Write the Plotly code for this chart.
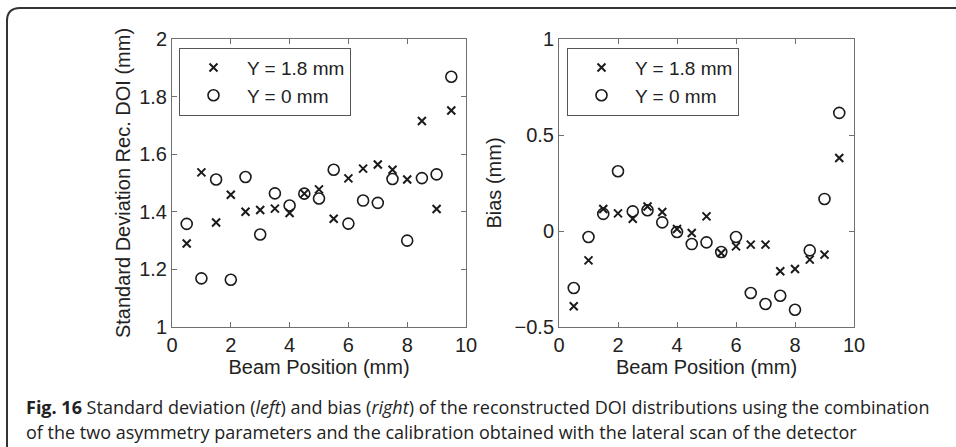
import plotly.graph_objects as go

beam_pos = [0.5, 1, 1.5, 2, 2.5, 3, 3.5, 4, 4.5, 5, 5.5, 6, 6.5, 7, 7.5, 8, 8.5, 9, 9.5]

std_y18 = [1.29, 1.537, 1.363, 1.459, 1.400, 1.406, 1.411, 1.396, 1.463, 1.478, 1.376,
           1.516, 1.550, 1.564, 1.546, 1.512, 1.715, 1.410, 1.752]
std_y0 = [1.358, 1.169, 1.512, 1.164, 1.521, 1.321, 1.464, 1.422, 1.463, 1.446, 1.546,
          1.359, 1.439, 1.431, 1.514, 1.300, 1.517, 1.530, 1.869]

bias_y18 = [-0.392, -0.153, 0.115, 0.092, 0.064, 0.128, 0.099, 0.010, -0.010, 0.076, -0.115,
            -0.080, -0.071, -0.071, -0.210, -0.198, -0.149, -0.123, 0.380]
bias_y0 = [-0.297, -0.031, 0.089, 0.311, 0.102, 0.108, 0.045, -0.005, -0.068, -0.059, -0.109,
           -0.031, -0.323, -0.380, -0.337, -0.410, -0.101, 0.167, 0.615]

series_names = ["Y = 1.8 mm", "Y = 0 mm"]
x_ticks = [0, 2, 4, 6, 8, 10]
std_ticks = [1, 1.2, 1.4, 1.6, 1.8, 2]
bias_ticks = [-0.5, 0, 0.5, 1]

W, H = 956, 447
INK = "#1a1a1a"
AXC = "#707070"

cross = dict(symbol="x-thin-open", size=8, color=INK, line=dict(width=2, color=INK))
circ = dict(symbol="circle-open", size=11, color=INK, line=dict(width=1.6, color=INK))

fig = go.Figure()
fig.add_trace(go.Scatter(x=beam_pos, y=std_y18, mode="markers", marker=cross,
                         name=series_names[0], xaxis="x", yaxis="y", legend="legend"))
fig.add_trace(go.Scatter(x=beam_pos, y=std_y0, mode="markers", marker=circ,
                         name=series_names[1], xaxis="x", yaxis="y", legend="legend"))
fig.add_trace(go.Scatter(x=beam_pos, y=bias_y18, mode="markers", marker=cross,
                         name=series_names[0], xaxis="x2", yaxis="y2", legend="legend2"))
fig.add_trace(go.Scatter(x=beam_pos, y=bias_y0, mode="markers", marker=circ,
                         name=series_names[1], xaxis="x2", yaxis="y2", legend="legend2"))

FAM = "Liberation Sans, Arial, sans-serif"
tickfont = dict(family=FAM, size=20, color="#222")
titlefont = dict(family=FAM, size=20, color="#222")

y_dom = [1 - 327 / H, 1 - 39 / H]

def xax(domain, anchor):
    return dict(domain=domain, anchor=anchor, range=[0, 10], tickvals=x_ticks, automargin=False,
                showgrid=False, zeroline=False, showline=True, linecolor=AXC, linewidth=1,
                mirror="ticks", ticks="inside", ticklen=5, tickcolor=AXC,
                tickfont=tickfont, title=dict(text="Beam Position (mm)", font=titlefont, standoff=1))

def yax(domain, anchor, rng, ticks, title, standoff):
    return dict(domain=domain, anchor=anchor, range=rng, tickvals=ticks, automargin=False,
                showgrid=False, zeroline=False, showline=True, linecolor=AXC, linewidth=1,
                mirror="ticks", ticks="inside", ticklen=5, tickcolor=AXC,
                tickfont=tickfont, title=dict(text=title, font=titlefont, standoff=standoff))

legend_common = dict(bgcolor="white", bordercolor="#555", borderwidth=1,
                     font=dict(family=FAM, size=19, color="#222"),
                     xanchor="left", yanchor="top", itemwidth=57, tracegroupgap=0)

fig.update_layout(
    template="none",
    width=W, height=H, margin=dict(l=0, r=0, t=0, b=0, autoexpand=False),
    paper_bgcolor="white", plot_bgcolor="white",
    showlegend=True,
    xaxis=xax([172 / W, 466 / W], "y"),
    yaxis=yax(y_dom, "x", [1, 2], std_ticks, "Standard Deviation Rec. DOI (mm)", 3),
    xaxis2=xax([559 / W, 854 / W], "y2"),
    yaxis2=yax(y_dom, "x2", [-0.5, 1], bias_ticks, "Bias (mm)", 7),
    legend=dict(x=179 / W, y=1 - 47.7 / H, **legend_common),
    legend2=dict(x=567 / W, y=1 - 47.7 / H, **legend_common),
)

# outer frame (top and left with rounded corner)
fl, ft, rad = 7 / W, 1 - 8 / H, 13
fig.add_shape(type="path", xref="paper", yref="paper",
              path=(f"M {fl},{-0.01} L {fl},{1 - (8 + rad) / H} "
                    f"Q {fl},{ft} {(7 + rad) / W},{ft} L {1.01},{ft}"),
              line=dict(color="#333", width=2))

capfont = dict(family="Open Sans, Noto Sans, sans-serif", size=18, color="#222")
fig.add_annotation(xref="paper", yref="paper", x=24 / W, y=1 - 407 / H, xanchor="left", yanchor="middle",
                   showarrow=False, font=capfont,
                   text="<b>Fig. 16</b> Standard deviation (<i>left</i>) and bias (<i>right</i>) of the reconstructed DOI distributions using the combination")
fig.add_annotation(xref="paper", yref="paper", x=24 / W, y=1 - 432 / H, xanchor="left", yanchor="middle",
                   showarrow=False, font=capfont,
                   text="of the two asymmetry parameters and the calibration obtained with the lateral scan of the detector")

fig.write_html("out.html", config={"displayModeBar": False},
               post_script="document.body.style.margin='0';document.body.style.overflow='hidden';")
